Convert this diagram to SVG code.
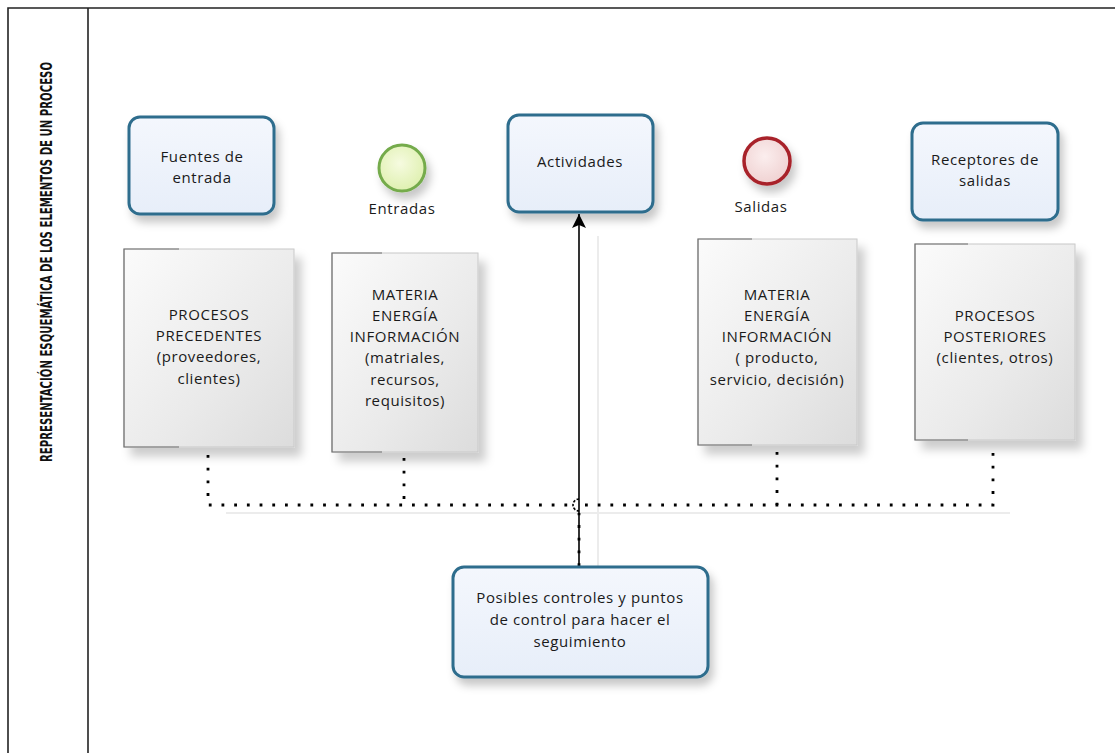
<svg xmlns="http://www.w3.org/2000/svg" width="1115" height="753" viewBox="0 0 1115 753">
<style>
.frame{stroke:#222;stroke-width:1.6;fill:none}
.title{font-family:"DejaVu Sans Condensed","Liberation Sans",Arial,sans-serif;font-stretch:condensed;font-weight:bold;font-size:15px;fill:#111}
.task{fill:url(#taskFill);stroke:#2e6d8d;stroke-width:3}
.doc{fill:url(#docFill);stroke:#c8c8c8;stroke-width:1}
.docEdge{fill:none;stroke:#6e6e6e;stroke-width:1.2}
.t{font-family:"Open Sans","DejaVu Sans",sans-serif;font-size:15px;fill:#1a1a1a;text-anchor:middle;letter-spacing:0.6px}
.dot{fill:none;stroke:#000;stroke-width:2.8;stroke-dasharray:2.8 9.9}
.solid{fill:none;stroke:#000;stroke-width:1.6}
.shadowline{fill:none;stroke:#ececec;stroke-width:2}
</style>
<defs>
<linearGradient id="taskFill" x1="0" y1="0" x2="0" y2="1">
<stop offset="0" stop-color="#f4f7fd"/>
<stop offset="1" stop-color="#e7eef9"/>
</linearGradient>
<linearGradient id="docFill" x1="0" y1="0" x2="1" y2="1">
<stop offset="0" stop-color="#fbfbfb"/>
<stop offset="0.6" stop-color="#eaeaea"/>
<stop offset="1" stop-color="#dcdcdc"/>
</linearGradient>
<radialGradient id="startFill" cx="0.45" cy="0.4" r="0.6">
<stop offset="0" stop-color="#f6fbe0"/>
<stop offset="1" stop-color="#dff0b0"/>
</radialGradient>
<radialGradient id="endFill" cx="0.45" cy="0.4" r="0.6">
<stop offset="0" stop-color="#fbeeee"/>
<stop offset="1" stop-color="#f0d2d2"/>
</radialGradient>
<filter id="sh" x="-20%" y="-20%" width="150%" height="150%">
<feDropShadow dx="4" dy="7" stdDeviation="4" flood-color="#000" flood-opacity="0.22"/>
</filter>
<filter id="shDoc" x="-20%" y="-20%" width="150%" height="150%">
<feDropShadow dx="7" dy="9" stdDeviation="5" flood-color="#000" flood-opacity="0.2"/>
</filter>
<marker id="arrow" viewBox="0 0 16 16" refX="15" refY="8" markerWidth="16" markerHeight="16" markerUnits="userSpaceOnUse" orient="auto">
<path d="M15 8 L1 1 L4 8 L1 15 Z" fill="#000"/>
</marker>
</defs>

<g id="frame">
<path class="frame" d="M8 753 V8 H1115"/>
<path class="frame" d="M88 8 V753"/>
<text class="title" transform="translate(52 262) rotate(-90)" text-anchor="middle" textLength="400" lengthAdjust="spacingAndGlyphs">REPRESENTACIÓN ESQUEMÁTICA DE LOS ELEMENTOS DE UN PROCESO</text>
</g>

<g id="connectors">
<path class="shadowline" d="M598 236 V567"/>
<path class="shadowline" d="M226 513 H1010"/>
<path class="dot" d="M208 455 V505 H573"/>
<path class="dot" d="M404 458 V505"/>
<path class="dot" d="M585 505 H993 V446"/>
<path class="dot" d="M777 452 V505"/>
<path class="solid" d="M579 499 A6 6 0 0 0 579 511" stroke-dasharray="2.5 1.5"/>
<path class="dot" d="M579 566 V513"/>
<path class="solid" d="M579 567 V214" marker-end="url(#arrow)"/>
</g>

<g id="fuentes">
<rect class="task" x="129" y="117" width="145" height="97" rx="11" filter="url(#sh)"/>
<text class="t" x="202" y="162">Fuentes de</text>
<text class="t" x="202" y="183">entrada</text>
</g>

<g id="entradas">
<circle cx="402" cy="168" r="23" fill="url(#startFill)" stroke="#74ab4c" stroke-width="3" filter="url(#sh)"/>
<text class="t" x="402" y="214">Entradas</text>
</g>

<g id="actividades">
<rect class="task" x="508" y="115" width="145" height="97" rx="11" filter="url(#sh)"/>
<text class="t" x="580" y="167">Actividades</text>
</g>

<g id="salidas">
<circle cx="767" cy="161" r="23" fill="url(#endFill)" stroke="#a8232a" stroke-width="3.5" filter="url(#sh)"/>
<text class="t" x="761" y="212">Salidas</text>
</g>

<g id="receptores">
<rect class="task" x="912" y="123" width="146" height="97" rx="11" filter="url(#sh)"/>
<text class="t" x="985" y="165">Receptores de</text>
<text class="t" x="985" y="186">salidas</text>
</g>

<g id="procesos-precedentes">
<rect class="doc" x="124" y="249" width="170" height="198" filter="url(#shDoc)"/>
<path class="docEdge" d="M179 249 H124 V447 H179"/>
<text class="t" x="209" y="320">PROCESOS</text>
<text class="t" x="209" y="341">PRECEDENTES</text>
<text class="t" x="209" y="362">(proveedores,</text>
<text class="t" x="209" y="384">clientes)</text>
</g>

<g id="materia-entrada">
<rect class="doc" x="332" y="253" width="146" height="199" filter="url(#shDoc)"/>
<path class="docEdge" d="M382 253 H332 V452 H382"/>
<text class="t" x="405" y="300">MATERIA</text>
<text class="t" x="405" y="321">ENERGÍA</text>
<text class="t" x="405" y="342">INFORMACIÓN</text>
<text class="t" x="405" y="363">(matriales,</text>
<text class="t" x="405" y="385">recursos,</text>
<text class="t" x="405" y="406">requisitos)</text>
</g>

<g id="materia-salida">
<rect class="doc" x="698" y="239" width="159" height="206" filter="url(#shDoc)"/>
<path class="docEdge" d="M752 239 H698 V445 H752"/>
<text class="t" x="777" y="300">MATERIA</text>
<text class="t" x="777" y="321">ENERGÍA</text>
<text class="t" x="777" y="342">INFORMACIÓN</text>
<text class="t" x="777" y="363">( producto,</text>
<text class="t" x="777" y="385">servicio, decisión)</text>
</g>

<g id="procesos-posteriores">
<rect class="doc" x="915" y="244" width="160" height="196" filter="url(#shDoc)"/>
<path class="docEdge" d="M968 244 H915 V440 H968"/>
<text class="t" x="995" y="321">PROCESOS</text>
<text class="t" x="995" y="342">POSTERIORES</text>
<text class="t" x="995" y="363">(clientes, otros)</text>
</g>

<g id="controles">
<rect class="task" x="453" y="567" width="255" height="110" rx="11" filter="url(#sh)"/>
<text class="t" x="580" y="603">Posibles controles y puntos</text>
<text class="t" x="580" y="625">de control para hacer el</text>
<text class="t" x="580" y="647">seguimiento</text>
</g>
</svg>
